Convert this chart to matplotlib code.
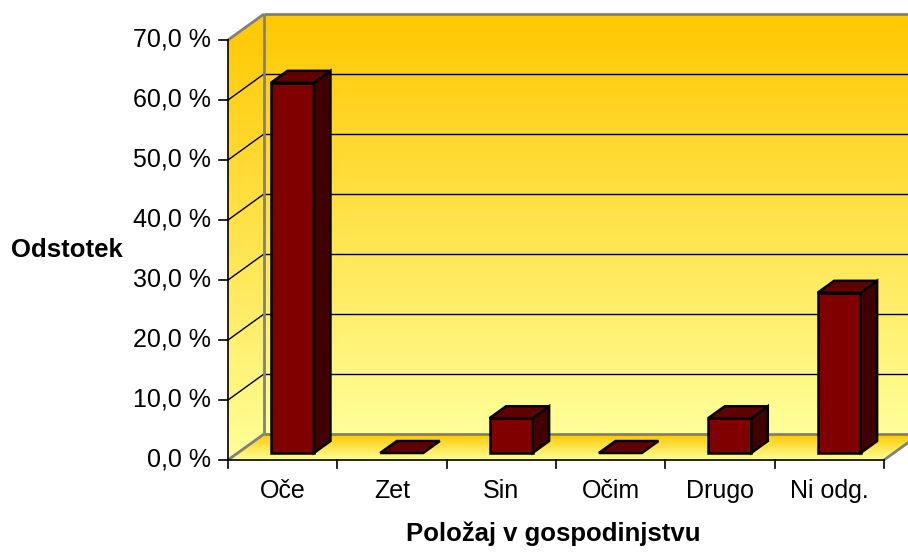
import numpy as np
import matplotlib.pyplot as plt
from matplotlib.patches import Polygon
from matplotlib.colors import to_rgb

# data
categories = ['Oče', 'Zet', 'Sin', 'Očim', 'Drugo', 'Ni odg.']
values = [61.7, 0.0, 5.8, 0.0, 5.8, 26.7]
y_ticks = [0, 10, 20, 30, 40, 50, 60, 70]
y_labels = ['0,0 %', '10,0 %', '20,0 %', '30,0 %', '40,0 %', '50,0 %', '60,0 %', '70,0 %']
x_title = 'Položaj v gospodinjstvu'
y_title = 'Odstotek'

plt.rcParams['font.family'] = ['Liberation Sans', 'DejaVu Sans']

fig = plt.figure(figsize=(9.08, 5.52), dpi=100)
ax = fig.add_axes([0, 0, 1, 1])

# pixel scale of the front plane
ux = 656 / 6   # px per category
uy = 6.0       # px per percent
DX = 36 / ux   # depth offset
DY = 26 / uy
ymax = 70

GOLD = '#ffc800'
PALE = '#ffff99'


def gradient_fill(xy, c_low, c_high, y_low, y_high, z):
    poly = Polygon(xy, closed=True, facecolor='none', edgecolor='none')
    ax.add_patch(poly)
    xs = [p[0] for p in xy]
    t = np.linspace(0, 1, 256)[:, None, None]
    img = (1 - t) * np.array(to_rgb(c_low)) + t * np.array(to_rgb(c_high))
    im = ax.imshow(img, extent=[min(xs), max(xs), y_low, y_high], origin='lower',
                   aspect='auto', interpolation='bilinear', zorder=z)
    im.set_clip_path(poly)


n = len(categories)

# walls and floor
gradient_fill([(DX, DY), (n + DX, DY), (n + DX, ymax + DY), (DX, ymax + DY)],
              PALE, GOLD, DY, ymax + DY, 1)
gradient_fill([(0, 0), (DX, DY), (DX, ymax + DY), (0, ymax)],
              PALE, GOLD, 0, ymax + DY, 1)
gradient_fill([(0, 0), (n, 0), (n + DX, DY), (DX, DY)],
              PALE, GOLD, 0, DY, 1)

# gridlines
for y in y_ticks[1:-1]:
    ax.plot([DX, n + DX], [y + DY, y + DY], color='black', lw=1, zorder=2)
    ax.plot([0, DX], [y, y + DY], color='black', lw=1, zorder=2)

# gray wall edges
gray = '#808080'
edges = [
    ([0, DX], [ymax, ymax + DY]),
    ([DX, n + DX], [ymax + DY, ymax + DY]),
    ([DX, DX], [DY, ymax + DY]),
    ([DX, n + DX], [DY, DY]),
    ([0, DX], [0, DY]),
    ([n, n + DX], [0, DY]),
]
for ex, ey in edges:
    ax.plot(ex, ey, color=gray, lw=2, zorder=3, solid_capstyle='butt')

# bars
bar_w = 43 / ux
f0, f1 = 0.27, 0.73
ddx, ddy = (f1 - f0) * DX, (f1 - f0) * DY
for i, v in enumerate(values):
    x0 = i + 0.5 - bar_w / 2 + f0 * DX
    x1 = x0 + bar_w
    y0 = f0 * DY
    y1 = y0 + v
    kw = dict(closed=True, edgecolor='black', lw=1.8, joinstyle='miter', zorder=5)
    if v > 0:
        ax.add_patch(Polygon([(x0, y0), (x1, y0), (x1, y1), (x0, y1)],
                             facecolor='#800000', **kw))
        ax.add_patch(Polygon([(x1, y0), (x1 + ddx, y0 + ddy), (x1 + ddx, y1 + ddy), (x1, y1)],
                             facecolor='#400000', **kw))
    ax.add_patch(Polygon([(x0, y1), (x1, y1), (x1 + ddx, y1 + ddy), (x0 + ddx, y1 + ddy)],
                         facecolor='#600000', **kw))

# front axes
ax.plot([0, 0], [0, ymax], color='black', lw=1.2, zorder=6)
ax.plot([0, n], [0, 0], color='black', lw=1.2, zorder=6)
for y, lab in zip(y_ticks, y_labels):
    ax.plot([-9 / ux, 0], [y, y], color='black', lw=1.2, zorder=6)
    ax.text(-17 / ux, y, lab, ha='right', va='center', fontsize=18)
for i in range(n + 1):
    ax.plot([i, i], [0, -8 / uy], color='black', lw=1.2, zorder=6)
for i, c in enumerate(categories):
    ax.text(i + 0.5, -31 / uy, c, ha='center', va='center', fontsize=18)

ax.text((67 - 228) / ux, 210 / uy, y_title, ha='center', va='center',
        fontsize=18.5, fontweight='bold')
ax.text((553 - 228) / ux, -74 / uy, x_title, ha='center', va='center',
        fontsize=18.5, fontweight='bold')

ax.set_xlim(-228 / ux, (908 - 228) / ux)
ax.set_ylim(-92 / uy, 460 / uy)
ax.axis('off')

fig.savefig('out.png', dpi=100)
